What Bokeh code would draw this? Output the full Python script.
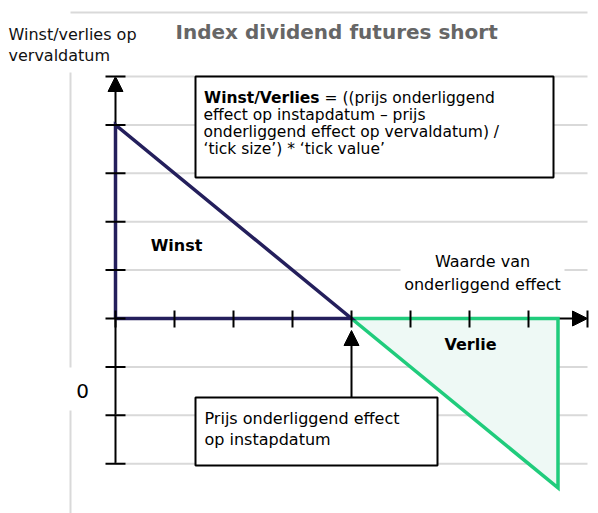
from bokeh.plotting import figure
from bokeh.models import Range1d, Label, Arrow, NormalHead
from bokeh.embed import file_html
from bokeh.resources import INLINE

# ---------------- data ----------------
x_ticks = [0, 1, 2, 3, 4, 5, 6, 7, 8]
y_ticks = [-3, -2, -1, 0, 1, 2, 3, 4, 5]
winst_x = [0, 0, 4, 0]
winst_y = [0, 4, 0, 0]
verlies_x = [4, 7.5, 7.5, 4]
verlies_y = [0, 0, -3.5, 0]
entry_price = 4

title_text = "Index dividend futures short"
y_title_lines = ["Winst/verlies op", "vervaldatum"]
x_title_lines = ["Waarde van", "onderliggend effect"]
formula_bold = "Winst/Verlies"
formula_lines = ["= ((prijs onderliggend",
                 "effect op instapdatum \u2013 prijs",
                 "onderliggend effect op vervaldatum) /",
                 "\u2018tick size\u2019) * \u2018tick value\u2019"]
entry_lines = ["Prijs onderliggend effect", "op instapdatum"]
winst_label = "Winst"
verlies_label = "Verlie"
zero_label = "0"

# ---------------- layout (page pixels -> data) ----------------
X0, Y0 = 115.0, 318.0      # page pixel of data origin
UX, UY = 59.0, 48.4        # pixels per data unit
W, H = 598, 513

def dx(px):
    return (px - X0) / UX

def dy(py):
    return (Y0 - py) / UY

FONT = "DejaVu Sans"
GRID = "#d9d9d9"
NAVY = "#241f5c"
GREEN = "#20cc7c"
GREEN_FILL = "#eef9f5"

p = figure(width=W, height=H,
           x_range=Range1d(dx(0), dx(W)),
           y_range=Range1d(dy(H), dy(0)),
           output_backend="svg", toolbar_location=None,
           x_axis_type=None, y_axis_type=None,
           min_border=0, outline_line_color=None,
           background_fill_color="white", border_fill_color="white")

# gridlines
gy = [t for t in y_ticks if t != 0]
p.segment(x0=[x_ticks[0]] * len(gy), y0=gy, x1=[x_ticks[-1]] * len(gy), y1=gy,
          line_color=GRID, line_width=2)

# outer light frame remnants
p.segment(x0=[dx(70), dx(70)], y0=[dy(12), dy(72)],
          x1=[x_ticks[-1], dx(70)], y1=[dy(12), dy(530)],
          line_color=GRID, line_width=2)

# axes with arrow heads
for xs, ys, xe, ye in [(0, y_ticks[0], 0, y_ticks[-1]),
                       (x_ticks[0], 0, x_ticks[-1], 0)]:
    p.add_layout(Arrow(x_start=xs, y_start=ys, x_end=xe, y_end=ye,
                       line_color="black", line_width=2, level="underlay",
                       end=NormalHead(size=15, fill_color="black",
                                      line_color="black", line_width=1)))

# loss area and profit line
p.patch(verlies_x, verlies_y, fill_color=GREEN_FILL, line_color=GREEN,
        line_width=3.5, line_join="miter")
p.line(winst_x, winst_y, line_color=NAVY, line_width=3.5, line_join="miter")

# tick marks
tu, td = 8 / UY, 9 / UY
p.segment(x0=x_ticks, y0=[tu] * len(x_ticks), x1=x_ticks, y1=[-td] * len(x_ticks),
          line_color="black", line_width=2)
tl = 10 / UX
p.segment(x0=[-tl] * len(y_ticks), y0=y_ticks, x1=[tl] * len(y_ticks), y1=y_ticks,
          line_color="black", line_width=2)

# text boxes
p.quad(left=[dx(195), dx(195)], right=[dx(553), dx(437)],
       top=[dy(76), dy(397)], bottom=[dy(177), dy(465)],
       fill_color="white", line_color="black", line_width=2)

# white backgrounds behind free labels
p.quad(left=[dx(400), dx(63)], right=[dx(564), dx(97)],
       top=[dy(249), dy(367)], bottom=[dy(294), dy(410)],
       fill_color="white", line_color=None)

# arrow to entry price
p.add_layout(Arrow(x_start=entry_price, y_start=dy(397), x_end=entry_price, y_end=dy(330),
                   line_color="black", line_width=2,
                   end=NormalHead(size=15, fill_color="black", line_color="black",
                                  line_width=1)))

def lab(text, px, py, size, bold=False, color="black", align="left"):
    p.add_layout(Label(x=dx(px), y=dy(py), text=text, text_font=FONT,
                       text_font_size=f"{size}px",
                       text_font_style="bold" if bold else "normal",
                       text_color=color, text_align=align, text_baseline="middle"))

lab(title_text, 175, 31, 20, bold=True, color="#666666")
for i, t in enumerate(y_title_lines):
    lab(t, 8, 34 + 21 * i, 16, color="#111111")

# formula box
lab(formula_bold, 319, 97, 15.5, bold=True, align="right")
lab(formula_lines[0], 324, 97, 15.5)
for i, t in enumerate(formula_lines[1:]):
    lab(t, 203, 114 + 17 * i, 15.5)

# entry box
for i, t in enumerate(entry_lines):
    lab(t, 204, 418 + 21 * i, 16)

for i, t in enumerate(x_title_lines):
    lab(t, 482, 261 + 23 * i, 16, align="center")

lab(winst_label, 176, 245, 16, bold=True, align="center")
lab(verlies_label, 470, 344, 16, bold=True, align="center")
lab(zero_label, 82, 390, 20, align="center")

open("out.html", "w").write(file_html(p, INLINE))
